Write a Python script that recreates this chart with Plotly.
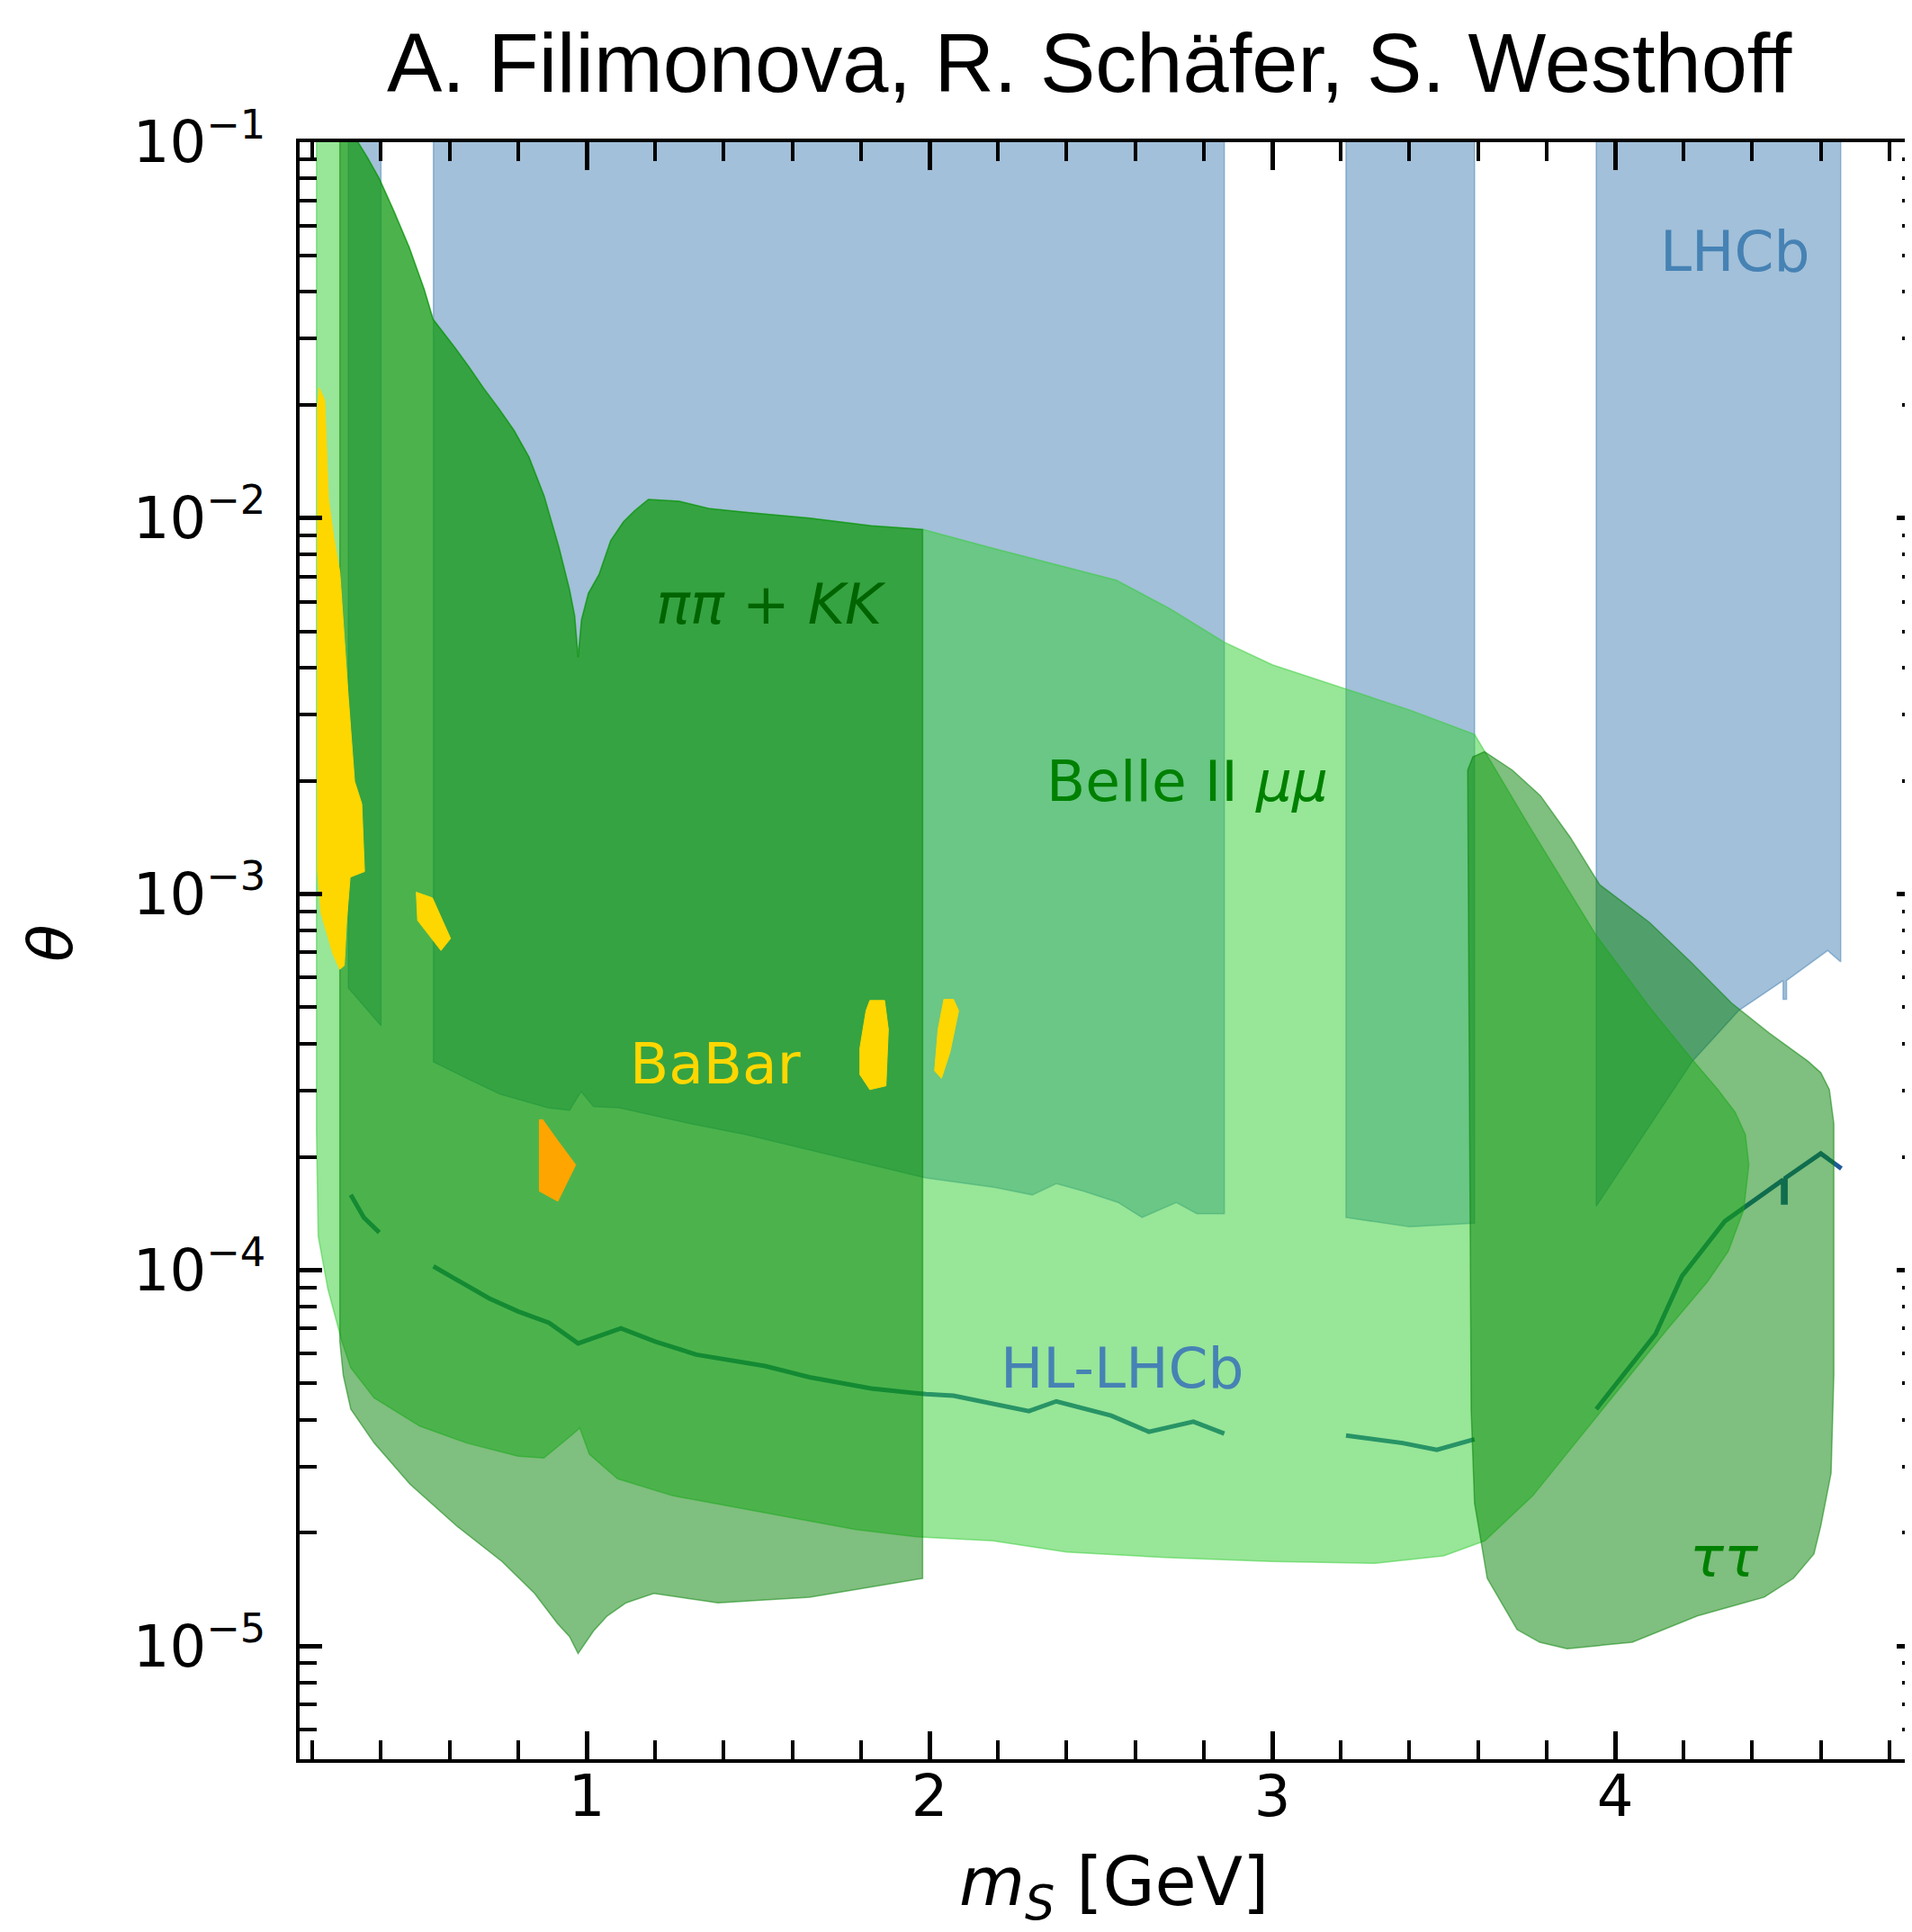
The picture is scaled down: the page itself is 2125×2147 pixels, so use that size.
import plotly.graph_objects as go

# ---------------- data (x in GeV, y as log10(theta)) ----------------
# LHCb excluded bands: x positions and lower boundary (bands extend to the top)
lhcb_b1_x = [0.305, 0.40]
lhcb_b1_low = [-3.25, -3.35]
lhcb_b2_x = [0.553, 0.65, 0.747, 0.886, 0.95, 0.984, 1.02, 1.094, 1.30, 1.466, 1.65, 1.826,
             1.99, 2.19, 2.30, 2.37, 2.45, 2.55, 2.62, 2.72, 2.78, 2.86]
lhcb_b2_low = [-3.446, -3.49, -3.532, -3.568, -3.575, -3.525, -3.565, -3.568, -3.61, -3.64, -3.68,
               -3.72, -3.755, -3.78, -3.80, -3.77, -3.79, -3.82, -3.86, -3.82, -3.85, -3.85]
lhcb_b3_x = [3.215, 3.40, 3.59]
lhcb_b3_low = [-3.86, -3.885, -3.875]
lhcb_b4_x = [3.945, 4.225, 4.36, 4.49, 4.49, 4.50, 4.50, 4.62, 4.658]
lhcb_b4_low = [-3.83, -3.445, -3.31, -3.23, -3.28, -3.28, -3.23, -3.15, -3.18]

# HL-LHCb projection (segments separated by None)
hl_x = [0.312, 0.35, 0.395, None,
        0.553, 0.65, 0.715, 0.80, 0.89, 0.975, 1.10, 1.20, 1.32, 1.52, 1.65, 1.83, 1.99, 2.07,
        2.29, 2.37, 2.53, 2.64, 2.77, 2.86, None,
        3.215, 3.38, 3.48, 3.59, None,
        3.945, 4.118, 4.195, 4.32, 4.49, 4.49, 4.497, 4.497, 4.60, 4.66]
hl_logt = [-3.80, -3.86, -3.90, None,
           -3.99, -4.04, -4.075, -4.11, -4.14, -4.195, -4.155, -4.19, -4.225, -4.255, -4.285,
           -4.315, -4.33, -4.334, -4.375, -4.349, -4.387, -4.43, -4.403, -4.435, None,
           -4.44, -4.46, -4.478, -4.45, None,
           -4.37, -4.17, -4.016, -3.87, -3.76, -3.82, -3.82, -3.755, -3.69, -3.73]

# pi pi + K K : upper boundary (left to right), lower boundary (right to left)
pipi_top_x = [0.28, 0.30, 0.318, 0.333, 0.36, 0.3945, 0.438, 0.482, 0.526, 0.552, 0.613, 0.657,
              0.70, 0.745, 0.788, 0.832, 0.876, 0.919, 0.95, 0.965, 0.975, 0.985, 1.005, 1.036,
              1.07, 1.107, 1.14, 1.18, 1.27, 1.36, 1.47, 1.65, 1.83, 1.98]
pipi_top_logt = [-0.3, -0.65, -0.85, -1.0, -1.04, -1.096, -1.184, -1.279, -1.391, -1.471,
                 -1.543, -1.598, -1.655, -1.71, -1.766, -1.838, -1.941, -2.077, -2.19, -2.26,
                 -2.37, -2.27, -2.2, -2.15, -2.06, -2.01, -1.98, -1.95, -1.955, -1.975, -1.985,
                 -2.0, -2.02, -2.03]
pipi_low_x = [1.98, 1.785, 1.65, 1.383, 1.196, 1.115, 1.06, 1.02, 0.975, 0.95, 0.915, 0.848,
              0.753, 0.62, 0.485, 0.38, 0.312, 0.29, 0.28]
pipi_low_logt = [-4.82, -4.85, -4.87, -4.885, -4.86, -4.885, -4.92, -4.96, -5.02, -4.975, -4.94,
                 -4.86, -4.775, -4.68, -4.57, -4.46, -4.37, -4.28, -4.19]

# Belle II mu mu : shares the upper boundary with pi pi + K K, continues below
belle_left_x = 0.212
belle_rest_x = [2.185, 2.40, 2.545, 2.70, 2.86, 3.0, 3.22, 3.40, 3.59, 3.75, 3.945, 4.10, 4.225,
                4.30, 4.35, 4.38, 4.39, 4.375, 4.33, 4.27, 4.15, 3.955, 3.76, 3.62, 3.50, 3.30,
                3.0, 2.70, 2.40, 2.185, 1.97, 1.785, 1.52, 1.25, 1.09, 1.008, 0.98, 0.955, 0.875,
                0.80, 0.65, 0.513, 0.38, 0.312, 0.286, 0.245, 0.217, 0.212]
belle_rest_logt = [-2.08, -2.13, -2.165, -2.24, -2.33, -2.39, -2.455, -2.51, -2.575, -2.82,
                   -3.11, -3.30, -3.44, -3.52, -3.58, -3.64, -3.72, -3.84, -3.95, -4.03, -4.16,
                   -4.38, -4.60, -4.72, -4.76, -4.78, -4.775, -4.765, -4.75, -4.72, -4.71, -4.69,
                   -4.645, -4.60, -4.555, -4.49, -4.42, -4.44, -4.50, -4.495, -4.46, -4.415,
                   -4.34, -4.26, -4.19, -4.05, -3.91, -3.63]

# tau tau
tau_x = [3.57, 3.585, 3.619, 3.70, 3.782, 3.87, 3.955, 4.10, 4.22, 4.34, 4.45, 4.562, 4.60,
         4.625, 4.638, 4.638, 4.63, 4.60, 4.58, 4.52, 4.435, 4.24, 4.05, 3.86, 3.78, 3.714,
         3.627, 3.59, 3.58, 3.57]
tau_logt = [-2.67, -2.635, -2.621, -2.67, -2.738, -2.85, -2.975, -3.075, -3.18, -3.29, -3.37,
            -3.444, -3.475, -3.52, -3.61, -4.28, -4.54, -4.68, -4.755, -4.82, -4.87, -4.92,
            -4.99, -5.007, -4.99, -4.956, -4.82, -4.62, -4.37, -2.67]

# BaBar islands (gold) and orange island
babar1_x = [0.215, 0.22, 0.236, 0.242, 0.247, 0.262, 0.28, 0.305, 0.323, 0.344, 0.352, 0.31,
            0.30, 0.293, 0.28, 0.26, 0.225, 0.215]
babar1_logt = [-1.70, -1.653, -1.687, -1.86, -1.95, -2.05, -2.144, -2.48, -2.70, -2.76, -2.94,
               -2.955, -3.07, -3.19, -3.20, -3.16, -3.05, -2.94]
babar2_x = [0.503, 0.55, 0.603, 0.575, 0.507]
babar2_logt = [-2.995, -3.01, -3.118, -3.15, -3.07]
babar3_x = [1.826, 1.869, 1.88, 1.873, 1.826, 1.797, 1.797, 1.815]
babar3_logt = [-3.283, -3.283, -3.36, -3.51, -3.52, -3.48, -3.41, -3.31]
babar4_x = [2.042, 2.07, 2.085, 2.06, 2.035, 2.015, 2.025]
babar4_logt = [-3.28, -3.28, -3.31, -3.42, -3.49, -3.47, -3.36]
orange_x = [0.862, 0.872, 0.915, 0.968, 0.916, 0.862]
orange_logt = [-3.60, -3.60, -3.655, -3.72, -3.817, -3.79]

# axes
x_major = [1, 2, 3, 4]
x_major_text = ["1", "2", "3", "4"]
x_minor = [0.2, 0.4, 0.6, 0.8, 1.2, 1.4, 1.6, 1.8, 2.2, 2.4, 2.6, 2.8, 3.2, 3.4, 3.6, 3.8,
           4.2, 4.4, 4.6, 4.8]
y_major = [1e-5, 1e-4, 1e-3, 1e-2, 1e-1]
y_major_text = ["10<sup>\u22125</sup>", "10<sup>\u22124</sup>", "10<sup>\u22123</sup>",
                "10<sup>\u22122</sup>", "10<sup>\u22121</sup>"]
y_minor_mant = [2, 3, 4, 5, 6, 7, 8, 9]
y_minor_exp = [-6, -5, -4, -3, -2]

X_RANGE = [0.1627, 4.887]
Y_RANGE = [-5.30103, -1.0]

# ---------------- helpers ----------------
def th(vals):
    return [None if v is None else 10 ** v for v in vals]

def band(xs, lows, top=0.0):
    px = [xs[0]] + list(xs) + [xs[-1], xs[0]]
    py = [top] + list(lows) + [top, top]
    return px, py

LHCB = "rgba(70,130,180,0.5)"
BELLE = "rgba(50,205,50,0.5)"
GREEN = "rgba(0,128,0,0.5)"

fig = go.Figure()

for bx, bl in [(lhcb_b1_x, lhcb_b1_low), (lhcb_b2_x, lhcb_b2_low),
               (lhcb_b3_x, lhcb_b3_low), (lhcb_b4_x, lhcb_b4_low)]:
    px, py = band(bx, bl)
    fig.add_trace(go.Scatter(x=px, y=th(py), fill="toself", fillcolor=LHCB, mode="lines",
                             line=dict(color=LHCB, width=1.5), hoverinfo="skip"))

fig.add_trace(go.Scatter(x=hl_x, y=th(hl_logt), mode="lines", connectgaps=False,
                         line=dict(color="#1e5a9a", width=5), hoverinfo="skip"))

# Belle II mu mu polygon
bx = [belle_left_x] + pipi_top_x + belle_rest_x + [belle_left_x]
by = [pipi_top_logt[0]] + pipi_top_logt + belle_rest_logt + [pipi_top_logt[0]]
fig.add_trace(go.Scatter(x=bx, y=th(by), fill="toself", fillcolor=BELLE, mode="lines",
                         line=dict(color=BELLE, width=1.5), hoverinfo="skip"))

# pi pi + K K polygon
ppx = pipi_top_x + pipi_low_x + [pipi_top_x[0]]
ppy = pipi_top_logt + pipi_low_logt + [pipi_top_logt[0]]
fig.add_trace(go.Scatter(x=ppx, y=th(ppy), fill="toself", fillcolor=GREEN, mode="lines",
                         line=dict(color=GREEN, width=1.5), hoverinfo="skip"))

# tau tau polygon
fig.add_trace(go.Scatter(x=tau_x, y=th(tau_logt), fill="toself", fillcolor=GREEN, mode="lines",
                         line=dict(color=GREEN, width=1.5), hoverinfo="skip"))

for ix, iy, col in [(babar1_x, babar1_logt, "#ffd700"), (babar2_x, babar2_logt, "#ffd700"),
                    (babar3_x, babar3_logt, "#ffd700"), (babar4_x, babar4_logt, "#ffd700"),
                    (orange_x, orange_logt, "#ffa500")]:
    fig.add_trace(go.Scatter(x=ix + [ix[0]], y=th(iy + [iy[0]]), fill="toself", fillcolor=col,
                             mode="lines", line=dict(color=col, width=1), hoverinfo="skip"))

# dummy traces for mirrored axes
fig.add_trace(go.Scatter(x=[None], y=[None], xaxis="x2", yaxis="y", showlegend=False))
fig.add_trace(go.Scatter(x=[None], y=[None], xaxis="x", yaxis="y2", showlegend=False))

y_minor = [m * 10 ** e for e in y_minor_exp for m in y_minor_mant]

tickfont = dict(family="DejaVu Sans", size=64, color="black")
xax = dict(range=X_RANGE, tickmode="array", tickvals=x_major, ticktext=x_major_text,
           ticks="inside", ticklen=31, tickwidth=4.5, tickcolor="black",
           showline=True, linecolor="black", linewidth=4, showgrid=False, zeroline=False,
           minor=dict(tickmode="array", tickvals=x_minor, ticks="inside", ticklen=21,
                      tickwidth=3.5, tickcolor="black", showgrid=False))
yax = dict(type="log", range=Y_RANGE, tickmode="array", tickvals=y_major, ticktext=y_major_text,
           ticks="inside", ticklen=25, tickwidth=4.5, tickcolor="black",
           showline=True, linecolor="black", linewidth=4, showgrid=False, zeroline=False,
           minor=dict(tickmode="array", tickvals=y_minor, ticks="inside", ticklen=19,
                      tickwidth=3.5, tickcolor="black", showgrid=False))

fig.update_layout(
    width=2125, height=2147,
    margin=dict(l=325, r=0, t=150, b=200),
    plot_bgcolor="white", paper_bgcolor="white",
    showlegend=False,
    xaxis=dict(**xax, tickfont=tickfont, ticklabelstandoff=-18),
    yaxis=dict(**yax, tickfont=tickfont, ticklabelstandoff=21),
    xaxis2=dict(**xax, overlaying="x", side="top", anchor="y", showticklabels=False),
    yaxis2=dict(**yax, overlaying="y", side="right", anchor="x", showticklabels=False),
)

ann_font = "DejaVu Sans"
labels = [
    ("LHCb", 4.35, -1.29, "#4682b4"),
    ("<i>\u03c0\u03c0</i> + <i>KK</i>", 1.538, -2.23, "#006400"),
    ("Belle II <i>\u03bc\u03bc</i>", 2.753, -2.70, "#008000"),
    ("BaBar", 1.375, -3.453, "#ffd700"),
    ("HL-LHCb", 2.564, -4.262, "#4682b4"),
    ("<i>\u03c4\u03c4</i>", 4.32, -4.763, "#008000"),
]
for txt, ax_, ay_, col in labels:
    fig.add_annotation(x=ax_, y=ay_, xref="x", yref="y", text=txt, showarrow=False,
                       font=dict(family=ann_font, size=63, color=col),
                       xanchor="center", yanchor="middle")

fig.add_annotation(x=0.4878, y=1.049, xref="paper", yref="paper",
                   text="A. Filimonova, R. Sch\u00e4fer, S. Westhoff", showarrow=False,
                   font=dict(family="Liberation Sans, Arial", size=92, color="black"),
                   xanchor="center", yanchor="middle")
fig.add_annotation(x=-0.1539, y=0.5047, xref="paper", yref="paper", text="<i>\u03b8</i>",
                   showarrow=False, textangle=-90,
                   font=dict(family="DejaVu Sans", size=68, color="black"),
                   xanchor="center", yanchor="middle")
fig.add_annotation(x=0.5028, y=-0.0785, xref="paper", yref="paper",
                   text="<i>m</i><sub><i>S</i></sub> [GeV]", showarrow=False,
                   font=dict(family="DejaVu Sans", size=75, color="black"),
                   xanchor="center", yanchor="middle")

fig.write_html("out.html")
